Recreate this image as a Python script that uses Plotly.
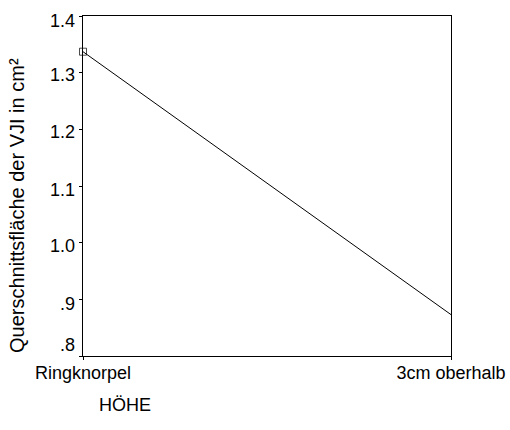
import plotly.graph_objects as go

categories = ["Ringknorpel", "3cm oberhalb"]
values = [1.337, 0.873]
y_ticks = [0.8, 0.9, 1.0, 1.1, 1.2, 1.3, 1.4]
y_ticklabels = [".8", ".9", "1.0", "1.1", "1.2", "1.3", "1.4"]
y_title = "Querschnittsfläche der VJI in cm²"
x_title = "HÖHE"

# vertical nudges (px) of the y tick labels, as in the original rendering
label_shift = [11, -5, -3, -4, -3, -2, -5]

xpos = list(range(len(categories)))
FAM = "Liberation Sans, Arial, sans-serif"
font = dict(family=FAM, size=18, color="black")

fig = go.Figure()
fig.add_trace(go.Scatter(
    x=xpos, y=values, mode="lines+markers",
    line=dict(color="black", width=1),
    marker=dict(symbol="square-open", size=[7, 0], color="black", line=dict(width=1)),
    showlegend=False, cliponaxis=False,
))

annotations = []
for v, t, s in zip(y_ticks, y_ticklabels, label_shift):
    annotations.append(dict(
        text=t, xref="paper", yref="y", x=0, y=v, xanchor="right", yanchor="middle",
        xshift=-6, yshift=s, showarrow=False, font=font,
    ))
annotations.append(dict(
    text=y_title, xref="paper", yref="paper", x=(17 - 83) / 368, y=(356 - 206) / 340,
    xanchor="center", yanchor="middle", textangle=-90, showarrow=False,
    font=dict(family=FAM, size=20, color="black"),
))
annotations.append(dict(
    text=x_title, xref="paper", yref="paper", x=(97 - 83) / 368, y=-(405 - 356) / 340,
    xanchor="left", yanchor="middle", showarrow=False, font=font,
))

fig.update_layout(
    width=510, height=430,
    margin=dict(l=83, r=59, t=16, b=74, autoexpand=False),
    paper_bgcolor="white", plot_bgcolor="white",
    font=font,
    xaxis=dict(
        range=[0, 1], tickvals=xpos, ticktext=categories,
        showgrid=False, zeroline=False, automargin=False,
        showline=True, linecolor="black", linewidth=1, mirror=True,
        ticks="outside", ticklen=3, tickcolor="black",
        ticklabelstandoff=-3,
    ),
    yaxis=dict(
        range=[0.8, 1.4], tickvals=y_ticks, showticklabels=False,
        showgrid=False, zeroline=False, automargin=False,
        showline=True, linecolor="black", linewidth=1, mirror=True,
        ticks="outside", ticklen=3, tickcolor="black",
    ),
    annotations=annotations,
)

fig.write_html("out.html")
